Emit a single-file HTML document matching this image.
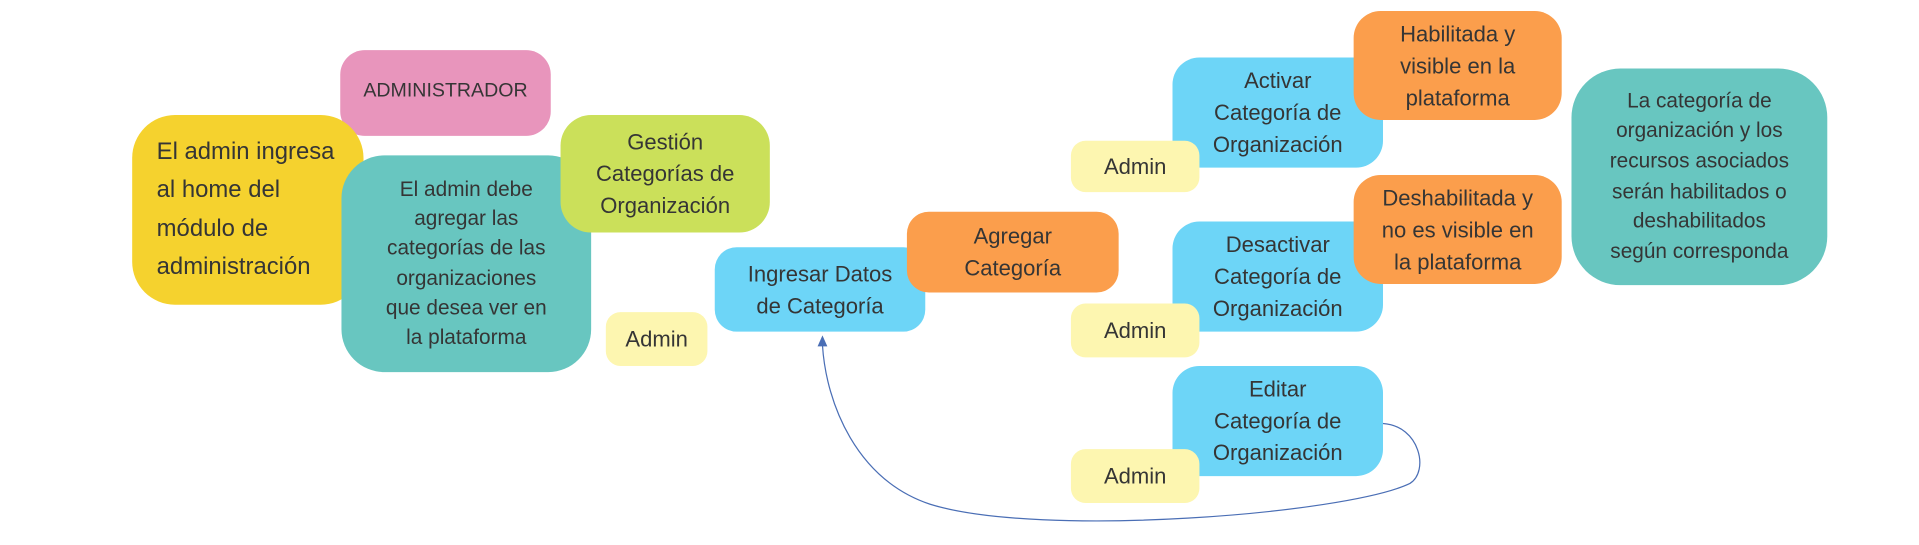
<!DOCTYPE html>
<html><head><meta charset="utf-8"><style>
html,body{margin:0;padding:0;background:#fff;width:1919px;height:544px;overflow:hidden}
#c{position:absolute;left:0;top:0;width:1568px;height:445px;transform:scale(1.2239);transform-origin:0 0}
.b{position:absolute;display:flex;align-items:center;justify-content:center;text-align:center;color:#353535;font-family:"Liberation Sans",sans-serif;box-sizing:border-box}
.y{background:#f5d22e}.p{background:#e895bc}.t{background:#68c6c0}.g{background:#cbe05a}.l{background:#fdf6b0}.bl{background:#6dd5f7}.o{background:#fb9e4c}
svg{position:absolute;left:0;top:0}
</style></head><body><div id="c">
<div class="b p" style="left:278px;top:41px;width:172px;height:70px;border-radius:20px;font-size:16px;padding-bottom:2px">ADMINISTRADOR</div>
<div class="b y" style="left:108px;top:94px;width:189px;height:155px;border-radius:35px;font-size:19.5px;line-height:31.5px;justify-content:flex-start;text-align:left;padding-left:20px">El admin ingresa<br>al home del<br>módulo de<br>administración</div>
<div class="b t" style="left:279px;top:127px;width:204px;height:177px;border-radius:35px;font-size:17px;line-height:24.3px">El admin debe<br>agregar las<br>categorías de las<br>organizaciones<br>que desea ver en<br>la plataforma</div>
<div class="b g" style="left:458px;top:94px;width:171px;height:96px;border-radius:25px;font-size:18px;line-height:26px">Gestión<br>Categorías de<br>Organización</div>
<div class="b bl" style="left:584px;top:202px;width:172px;height:69px;border-radius:18px;font-size:18px;line-height:26px">Ingresar Datos<br>de Categoría</div>
<div class="b l" style="left:495px;top:255px;width:83px;height:44px;border-radius:12px;font-size:18px">Admin</div>
<div class="b o" style="left:741px;top:173px;width:173px;height:66px;border-radius:18px;font-size:18px;line-height:26px">Agregar<br>Categoría</div>
<div class="b bl" style="left:958px;top:47px;width:172px;height:90px;border-radius:22px;font-size:18px;line-height:26px">Activar<br>Categoría de<br>Organización</div>
<div class="b l" style="left:875px;top:115px;width:105px;height:42px;border-radius:12px;font-size:18px">Admin</div>
<div class="b o" style="left:1106px;top:9px;width:170px;height:89px;border-radius:22px;font-size:18px;line-height:26px">Habilitada y<br>visible en la<br>plataforma</div>
<div class="b bl" style="left:958px;top:181px;width:172px;height:90px;border-radius:22px;font-size:18px;line-height:26px">Desactivar<br>Categoría de<br>Organización</div>
<div class="b l" style="left:875px;top:248px;width:105px;height:44px;border-radius:12px;font-size:18px">Admin</div>
<div class="b o" style="left:1106px;top:143px;width:170px;height:89px;border-radius:22px;font-size:18px;line-height:26px">Deshabilitada y<br>no es visible en<br>la plataforma</div>
<div class="b t" style="left:1284px;top:56px;width:209px;height:177px;border-radius:40px;font-size:17px;line-height:24.6px">La categoría de<br>organización y los<br>recursos asociados<br>serán habilitados o<br>deshabilitados<br>según corresponda</div>
<div class="b bl" style="left:958px;top:299px;width:172px;height:90px;border-radius:22px;font-size:18px;line-height:26px">Editar<br>Categoría de<br>Organización</div>
<div class="b l" style="left:875px;top:367px;width:105px;height:44px;border-radius:12px;font-size:18px">Admin</div>
<svg width="1568" height="445"><path d="M1130,346 C1160,348 1168,385 1152,395 C1100,420 850,440 760,412 C700,392 675,330 672,282" fill="none" stroke="#4a6eb5" stroke-width="1"/><path d="M672,274 L668,283 L676,283 Z" fill="#4a6eb5"/></svg>
</div></body></html>
